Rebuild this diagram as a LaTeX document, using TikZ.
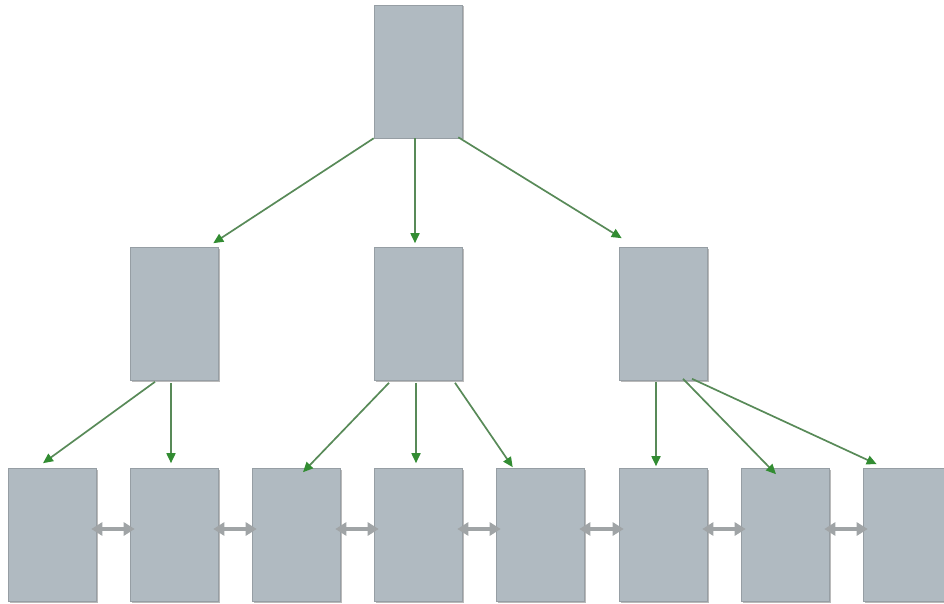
\documentclass[tikz,border=0pt]{standalone}
\usetikzlibrary{arrows.meta,calc,shadows}
\definecolor{boxfill}{RGB}{176,186,193}
\definecolor{boxline}{RGB}{150,158,164}
\definecolor{linkgreen}{RGB}{88,138,88}
\definecolor{headgreen}{RGB}{50,140,50}
\definecolor{dgray}{RGB}{160,164,166}
\tikzset{
  pagebox/.style={rectangle, fill=boxfill, draw=boxline, line width=0.6pt,
    minimum width=88pt, minimum height=133pt, inner sep=0pt,
    drop shadow={shadow xshift=1.5pt, shadow yshift=-1.5pt, opacity=0.45, fill=black!60}},
  garrow/.style={draw=linkgreen, line width=1.7pt,
    -{Triangle[length=10pt,width=9pt,fill=headgreen,color=headgreen]}},
  sibarrow/.style={draw=dgray, line width=3.5pt,
    {Triangle[length=11pt,width=13pt]}-{Triangle[length=11pt,width=13pt]}}
}
\begin{document}
\begin{tikzpicture}[x=1pt,y=-1pt]
\useasboundingbox (0,0) rectangle (944,604);
% boxes
\node[pagebox] (top) at (418,71.5) {};
\node[pagebox] (mL) at (174,314) {};
\node[pagebox] (mC) at (418,314) {};
\node[pagebox] (mR) at (663,314) {};
\node[pagebox] (b1) at (52,535) {};
\node[pagebox] (b2) at (174,535) {};
\node[pagebox] (b3) at (296,535) {};
\node[pagebox] (b4) at (418,535) {};
\node[pagebox] (b5) at (540,535) {};
\node[pagebox] (b6) at (663,535) {};
\node[pagebox] (b7) at (785,535) {};
\node[pagebox] (b8) at (907,535) {};
% tree arrows
\draw[garrow] (top.south west) -- ($(mL.north east)+(-5,-4)$);
\draw[garrow] ($(top.south)+(-3,0)$) -- ($(mC.north)+(-3,-4)$);
\draw[garrow] ($(top.south east)+(-4,-1)$) -- ($(mR.north west)+(3,-9)$);
\draw[garrow] ($(mL.south)+(-19,1)$) -- ($(b1.north)+(-9,-5)$);
\draw[garrow] ($(mL.south)+(-3,2)$) -- ($(b2.north)+(-3,-5)$);
\draw[garrow] ($(mC.south)+(-29,2)$) -- ($(b3.north)+(7,4)$);
\draw[garrow] ($(mC.south)+(-2,2)$) -- ($(b4.north)+(-2,-5)$);
\draw[garrow] ($(mC.south)+(37,2)$) -- ($(b5.north west)+(17,-1)$);
\draw[garrow] ($(mR.south)+(-7,1)$) -- ($(b6.north)+(-7,-2)$);
\draw[garrow] ($(mR.south)+(20,-2)$) -- ($(b7.north)+(-9,6)$);
\draw[garrow] ($(mR.south)+(29,-2)$) -- ($(b8.north west)+(14,-4)$);
% sibling arrows
\foreach \a/\b in {b1/b2,b2/b3,b3/b4,b4/b5,b5/b6,b6/b7,b7/b8}{
  \draw[sibarrow] ($(\a.east)+(-5,-6)$) -- ($(\b.west)+(5,-6)$);
}
\end{tikzpicture}
\end{document}
